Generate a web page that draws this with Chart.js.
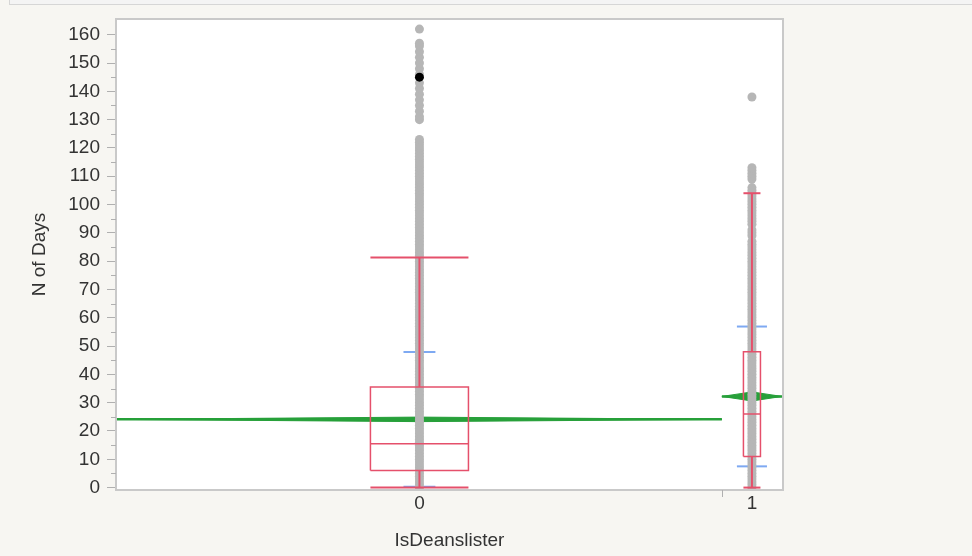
<!DOCTYPE html>
<html>
<head>
<meta charset="utf-8">
<script src="https://cdn.jsdelivr.net/npm/chart.js@4.4.1/dist/chart.umd.min.js"></script>
<style>
  body { margin: 0; background: #f7f6f2; overflow: hidden; }
  #wrap { position: relative; width: 972px; height: 556px; }
  #strip { position: absolute; left: 9px; top: -10px; width: 970px; height: 13px;
           border: 1px solid #d6d6d6; background: #f4f4f4; }
</style>
</head>
<body>
<div id="wrap">
  <div id="strip"></div>
  <canvas id="oneway"></canvas>
</div>
<script>
// IsDeanslister groups and their share of the x axis (JMP sizes groups by count)
const categories = ["0", "1"];
const groupShare = [0.9096, 0.0904];

// N of Days, one entry per distinct value seen in each group
const days0 = [
  0, 1, 2, 3, 4, 5, 6, 7, 8, 9, 10, 11, 12, 13, 14, 15, 16, 17, 18, 19,
  20, 21, 22, 23, 24, 25, 26, 27, 28, 29, 30, 31, 32, 33, 34, 35, 36, 37, 38, 39,
  40, 41, 42, 43, 44, 45, 46, 47, 48, 49, 50, 51, 52, 53, 54, 55, 56, 57, 58, 59,
  60, 61, 62, 63, 64, 65, 66, 67, 68, 69, 70, 71, 72, 73, 74, 75, 76, 77, 78, 79,
  80, 81, 82, 83, 84, 85, 86, 87, 88, 89, 90, 91, 92, 93, 94, 95, 96, 97, 98, 99,
  100, 101, 102, 103, 104, 105, 106, 107, 108, 109, 110, 111, 112, 113, 114, 115,
  116, 117, 118, 119, 120, 121, 122, 123,
  130, 131, 133, 135, 137, 139, 141, 143, 146, 148, 150, 152, 154, 156, 157, 162
];
const days0Selected = [145];
const days1 = [
  0, 1, 2, 3, 4, 5, 6, 7, 8, 9, 10, 11, 12, 13, 14, 15, 16, 17, 18, 19,
  20, 21, 22, 23, 24, 25, 26, 27, 28, 29, 30, 31, 32, 33, 34, 35, 36, 37, 38, 39,
  40, 41, 42, 43, 44, 45, 46, 47, 48, 49, 50, 51, 52, 53, 54, 55, 56, 57, 58, 59,
  60, 61, 62, 63, 64, 65, 66, 67, 68, 69, 70, 71, 72, 73, 74, 75, 76, 77, 78, 79,
  80, 81, 82, 83, 84, 85, 86, 87, 89, 90, 91, 93, 94, 95, 96, 97, 98, 99,
  100, 101, 102, 103, 104, 105, 106,
  109, 110, 111, 112, 113, 138
];

// box plot and means per group
const whiskerLow = [0, 0];
const q1 = [6, 11];
const median = [15.5, 26];
const q3 = [35.5, 48];
const whiskerHigh = [81.3, 104];
const means = [24.1, 32.2];
const stdDevs = [23.8, 24.7];
const meanCI = [0.8, 1.6];

const yTicks = [0, 10, 20, 30, 40, 50, 60, 70, 80, 90, 100, 110, 120, 130, 140, 150, 160];

// drawing sizes in x-axis units
const boxHalf = [0.0737, 0.0128];
const sdHalf = [0.024, 0.0226];

const RED = "#e5506b";
const BLUE = "#7ea9f2";
const GREEN = "#27a03a";
const GRAY = "#b6b6b6";

const starts = [0, groupShare[0]];
const ends = [groupShare[0], groupShare[0] + groupShare[1]];
const centers = starts.map((s, i) => (s + ends[i]) / 2);

function seg(points, color, width, order, extra) {
  return Object.assign({
    data: points.map(p => ({ x: p[0], y: p[1] })),
    showLine: true,
    pointRadius: 0,
    borderColor: color,
    borderWidth: width,
    order: order,
  }, extra || {});
}

const datasets = [];

// means diamonds + mean lines
categories.forEach((c, i) => {
  datasets.push(seg([[starts[i], means[i]], [centers[i], means[i] + meanCI[i]],
                     [ends[i], means[i]], [centers[i], means[i] - meanCI[i]],
                     [starts[i], means[i]]], GREEN, 1, 5,
                    { fill: "shape", backgroundColor: GREEN }));
  datasets.push(seg([[starts[i], means[i]], [ends[i], means[i]]], GREEN, 2.5, 5));
});

// std dev marks
categories.forEach((c, i) => {
  [means[i] + stdDevs[i], means[i] - stdDevs[i]].forEach(v => {
    datasets.push(seg([[centers[i] - sdHalf[i], v], [centers[i] + sdHalf[i], v]], BLUE, 2, 4));
  });
});

// points
[days0, days1].forEach((vals, i) => {
  datasets.push({
    data: vals.map(v => ({ x: centers[i], y: v })),
    pointRadius: 4.5,
    pointBackgroundColor: GRAY,
    pointBorderWidth: 0,
    order: 3,
  });
});
datasets.push({
  data: days0Selected.map(v => ({ x: centers[0], y: v })),
  pointRadius: 4.5,
  pointBackgroundColor: "#000",
  pointBorderWidth: 0,
  order: 2,
});

// box plots
categories.forEach((c, i) => {
  const l = centers[i] - boxHalf[i], r = centers[i] + boxHalf[i], m = centers[i];
  datasets.push(seg([[l, q1[i]], [r, q1[i]], [r, q3[i]], [l, q3[i]], [l, q1[i]]], RED, 1.5, 1));
  datasets.push(seg([[l, median[i]], [r, median[i]]], RED, 1.5, 1));
  datasets.push(seg([[m, whiskerLow[i]], [m, q1[i]]], RED, 2, 1));
  datasets.push(seg([[m, q3[i]], [m, whiskerHigh[i]]], RED, 2, 1));
  datasets.push(seg([[l, whiskerLow[i]], [r, whiskerLow[i]]], RED, 2, 1));
  datasets.push(seg([[l, whiskerHigh[i]], [r, whiskerHigh[i]]], RED, 2, 1));
});

const frame = {
  id: "frame",
  beforeDraw(chart) {
    const { ctx, chartArea: a } = chart;
    ctx.save();
    ctx.fillStyle = "#fff";
    ctx.fillRect(a.left, a.top, a.right - a.left, a.bottom - a.top);
    ctx.restore();
  },
  afterDraw(chart) {
    const { ctx, chartArea: a, scales: { x, y } } = chart;
    ctx.save();
    ctx.strokeStyle = "#c9c9c9";
    ctx.lineWidth = 2;
    ctx.strokeRect(a.left - 1, a.top - 1, a.right - a.left + 2, a.bottom - a.top + 2);
    // minor ticks halfway between labels
    ctx.strokeStyle = "#b0b0b0";
    ctx.lineWidth = 1;
    for (let i = 0; i < yTicks.length - 1; i++) {
      const py = Math.round(y.getPixelForValue((yTicks[i] + yTicks[i + 1]) / 2)) + 0.5;
      ctx.beginPath();
      ctx.moveTo(a.left - 6, py);
      ctx.lineTo(a.left - 1, py);
      ctx.stroke();
    }
    // group boundary tick
    const px = Math.round(x.getPixelForValue(ends[0])) + 0.5;
    ctx.beginPath();
    ctx.moveTo(px, a.bottom + 1);
    ctx.lineTo(px, a.bottom + 8);
    ctx.stroke();
    ctx.restore();
  }
};

const font = { family: "'Liberation Sans', Arial, sans-serif", size: 19 };

new Chart(document.getElementById("oneway"), {
  type: "scatter",
  data: { datasets },
  options: {
    responsive: true,
    maintainAspectRatio: false,
    animation: false,
    layout: { padding: { top: 20, right: 190, bottom: 0, left: 0 } },
    plugins: { legend: { display: false }, tooltip: { enabled: false } },
    scales: {
      x: {
        type: "linear",
        min: 0,
        max: 1,
        afterFit(scale) { scale.height = 67; },
        afterBuildTicks(scale) { scale.ticks = centers.map(v => ({ value: v })); },
        grid: { display: false, drawTicks: false },
        border: { display: false },
        ticks: { padding: 3, color: "#333", font, callback: (v, i) => categories[i] },
        title: { display: true, text: "IsDeanslister", color: "#333", font, padding: { top: 0, bottom: 4 } },
      },
      y: {
        type: "linear",
        min: -0.5,
        max: 165.2,
        afterFit(scale) { scale.width = 117; },
        afterBuildTicks(scale) { scale.ticks = yTicks.map(v => ({ value: v })); },
        grid: { drawOnChartArea: false, tickLength: 10, tickColor: "#b0b0b0" },
        border: { display: false },
        ticks: { padding: 7, color: "#333", font },
        title: { display: true, text: "N of Days", color: "#333", font, padding: { top: 28, bottom: 0 } },
      },
    },
  },
  plugins: [frame],
});
</script>
</body>
</html>
